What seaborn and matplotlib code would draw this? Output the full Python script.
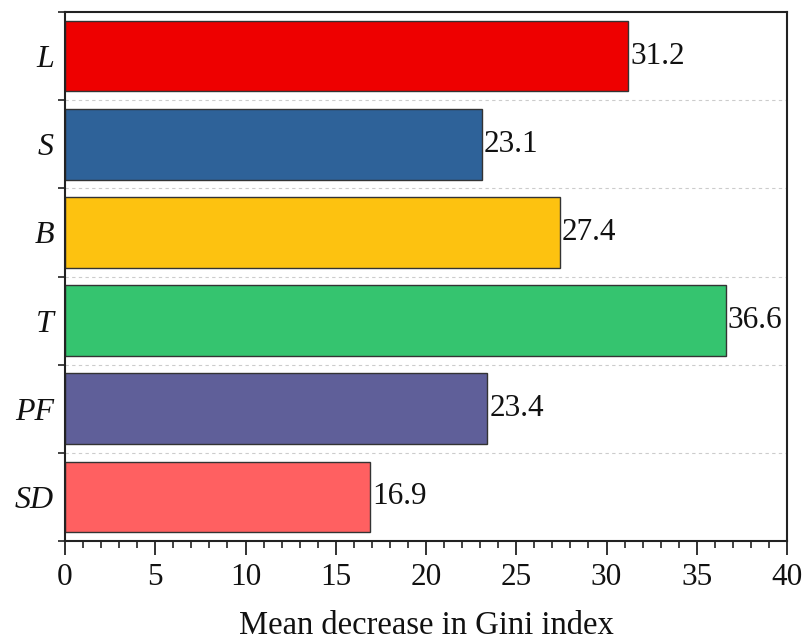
import matplotlib
matplotlib.use("Agg")
import matplotlib.pyplot as plt
import seaborn as sns
import pandas as pd
import numpy as np
from matplotlib.ticker import MultipleLocator, FixedLocator

factors = ["L", "S", "B", "T", "PF", "SD"]
gini_decrease = [31.2, 23.1, 27.4, 36.6, 23.4, 16.9]
bar_colors = ["#EE0000", "#2E6299", "#FDC210", "#35C46F", "#5F5F99", "#FF6061"]
x_ticks = [0, 5, 10, 15, 20, 25, 30, 35, 40]

sns.set_theme(style="white")
plt.rcParams["font.family"] = ["Liberation Serif", "DejaVu Serif"]

FS = 22.5

df = pd.DataFrame({"factor": factors, "value": gini_decrease})

fig = plt.figure(figsize=(8.05, 6.43), dpi=100)
ax = fig.add_axes([65 / 805, 1 - 541 / 643, (787 - 65) / 805, (541 - 12) / 643])

sns.barplot(data=df, x="value", y="factor", hue="factor", palette=bar_colors,
            order=factors, hue_order=factors, orient="h", width=0.8, saturation=1,
            edgecolor="#333333", linewidth=1.0, legend=False, ax=ax)

for cont in ax.containers:
    ax.bar_label(cont, fmt="%.1f", padding=1.5, fontsize=FS, color="#111111")

ax.set_xlim(0, 40)
ax.set_ylim(len(factors) - 0.5, -0.5)

# category boundaries: dashed guide lines and outward ticks
bounds = np.arange(-0.5, len(factors), 1.0)
for b in bounds[1:-1]:
    ax.axhline(b, color="#cccccc", linestyle=(0, (3, 3)), linewidth=0.8, zorder=0)

ax.yaxis.set_major_locator(FixedLocator(range(len(factors))))
ax.yaxis.set_minor_locator(FixedLocator(bounds))
ax.set_yticks(range(len(factors)))
ax.set_yticklabels(factors, fontstyle="italic", fontsize=FS + 0.5)

ax.xaxis.set_major_locator(FixedLocator(x_ticks))
ax.xaxis.set_minor_locator(MultipleLocator(1))

ax.tick_params(which="both", bottom=True, left=True, top=False, right=False,
               direction="out", color="#222222", labelcolor="#111111")
ax.tick_params(axis="y", which="major", length=0, pad=8)
ax.tick_params(axis="y", which="minor", length=5, width=1.2)
ax.tick_params(axis="x", which="major", length=10, width=1.3, pad=6, labelsize=FS)
ax.tick_params(axis="x", which="minor", length=5, width=1.2)

ax.set_xlabel("Mean decrease in Gini index", fontsize=23.5, labelpad=13, color="#111111")
ax.set_ylabel("")

for sp in ax.spines.values():
    sp.set_visible(True)
    sp.set_linewidth(1.5)
    sp.set_color("#222222")

fig.savefig("out.png", dpi=100, facecolor="white")
